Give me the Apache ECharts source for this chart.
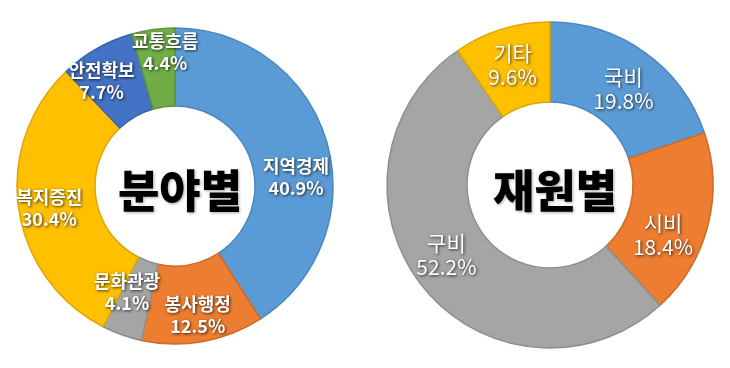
<!DOCTYPE html>
<html>
<head>
<meta charset="utf-8">
<script src="https://cdn.jsdelivr.net/npm/echarts@6/dist/echarts.min.js"></script>
<style>
html,body{margin:0;padding:0;background:#fff;}
#c{width:730px;height:368px;}
</style>
</head>
<body>
<div id="c"></div>
<script>
// Data
const leftTitle = '분야별';
const leftCategories = ['지역경제', '봉사행정', '문화관광', '복지증진', '안전확보', '교통흐름'];
const leftValues = [40.9, 12.5, 4.1, 30.4, 7.7, 4.4];

const rightTitle = '재원별';
const rightCategories = ['국비', '시비', '구비', '기타'];
const rightValues = [19.8, 18.4, 52.2, 9.6];

// Styles
const leftColors = ['#5B9BD5', '#ED7D31', '#A5A5A5', '#FFC000', '#4472C4', '#70AD47'];
const leftBorders = ['#4A86C0', '#CF6A25', '#8E8E8E', '#DDA600', '#3A62AC', '#5E9639'];
const rightColors = ['#5B9BD5', '#ED7D31', '#A5A5A5', '#FFC000'];
const rightBorders = ['#4A86C0', '#CF6A25', '#8E8E8E', '#DDA600'];
const leftNudge = [[4, 26], [1, 9], [-7, -9], [-5, 5], [-13, 1], [7, -13]];
const rightNudge = [[0, 6], [-9, 19], [-5, -8], [0, 0]];

const FONT = '"Noto Sans CJK KR", "Noto Sans", sans-serif';

function buildData(cats, vals, colors, borders) {
  return cats.map((c, i) => ({
    name: c,
    value: vals[i],
    itemStyle: { color: colors[i], borderColor: borders[i], borderWidth: 1.5 }
  }));
}

function labelStyle(size, weight, lh) {
  return {
    show: true,
    position: 'inside',
    formatter: p => p.name + '\n' + p.value.toFixed(1) + '%',
    color: '#fff',
    fontFamily: FONT,
    fontWeight: weight,
    fontSize: size,
    lineHeight: lh,
    align: 'center',
    textShadowColor: 'rgba(0,0,0,0.75)',
    textShadowBlur: 3,
    textShadowOffsetX: 1,
    textShadowOffsetY: 1
  };
}

const titleStyle = {
  fontFamily: FONT, fontWeight: 900, fontSize: 45, color: '#000',
  textShadowColor: 'rgba(0,0,0,0.35)', textShadowBlur: 3, textShadowOffsetX: 1, textShadowOffsetY: 1
};

const chart = echarts.init(document.getElementById('c'), null, { renderer: 'canvas' });
chart.setOption({
  backgroundColor: '#fff',
  animation: false,
  title: [
    { text: leftTitle, left: 175, top: 186, textAlign: 'center', textVerticalAlign: 'middle', textStyle: titleStyle },
    { text: rightTitle, left: 550, top: 186, textAlign: 'center', textVerticalAlign: 'middle', textStyle: titleStyle }
  ],
  series: [
    {
      type: 'pie',
      center: [175, 186],
      radius: [80, 158],
      startAngle: 90,
      clockwise: true,
      avoidLabelOverlap: false,
      label: labelStyle(18, 'bold', 22),
      labelLine: { show: false },
      labelLayout: p => ({ dx: leftNudge[p.dataIndex][0], dy: leftNudge[p.dataIndex][1] }),
      emphasis: { disabled: true },
      data: buildData(leftCategories, leftValues, leftColors, leftBorders)
    },
    {
      type: 'pie',
      center: [550, 185],
      radius: [83, 163],
      startAngle: 90,
      clockwise: true,
      avoidLabelOverlap: false,
      label: labelStyle(21, 'normal', 24),
      labelLine: { show: false },
      labelLayout: p => ({ dx: rightNudge[p.dataIndex][0], dy: rightNudge[p.dataIndex][1] }),
      emphasis: { disabled: true },
      data: buildData(rightCategories, rightValues, rightColors, rightBorders)
    }
  ]
});
</script>
</body>
</html>
